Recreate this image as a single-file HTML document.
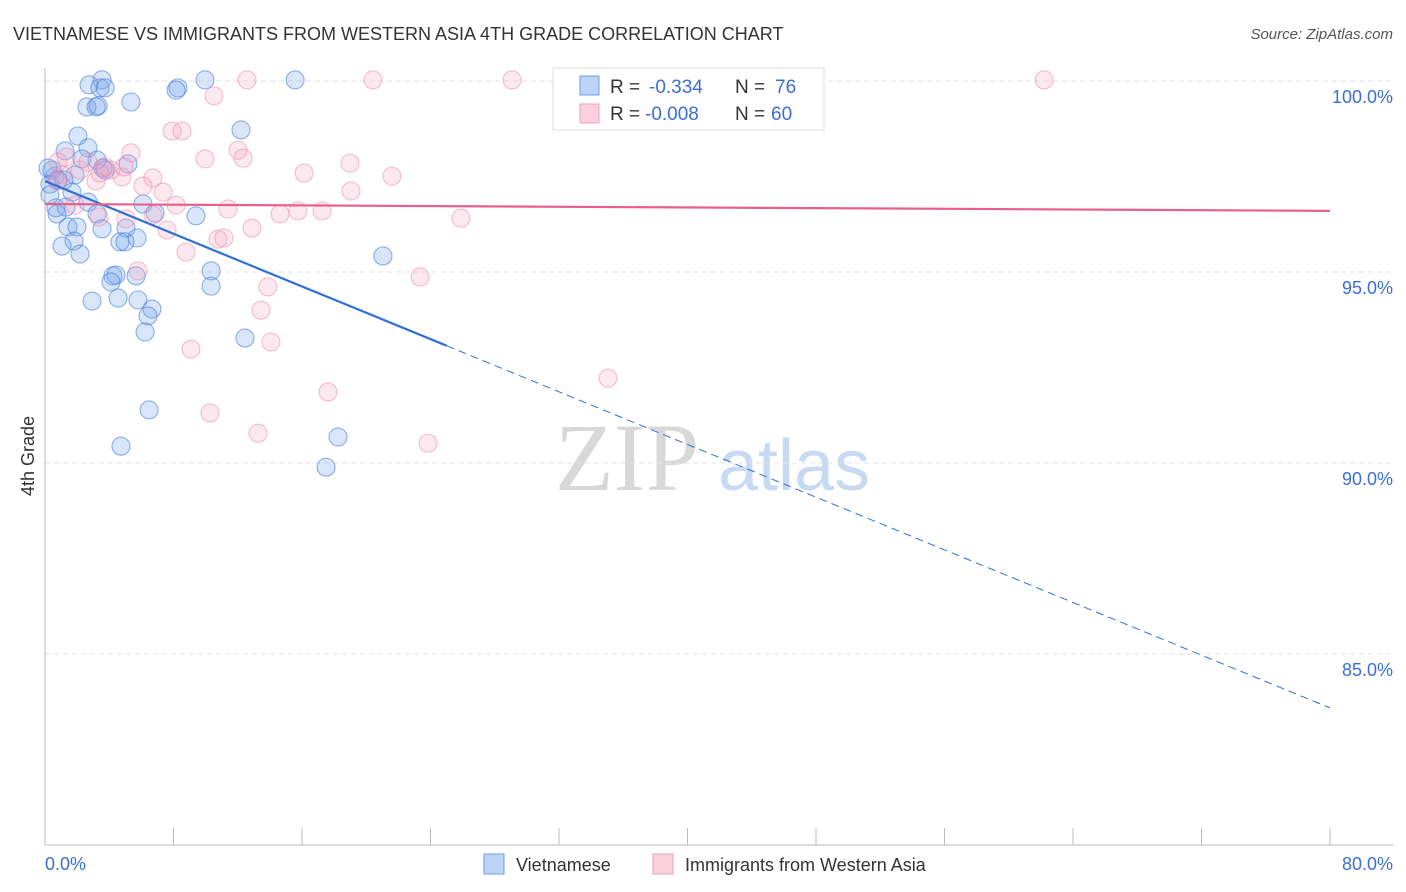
<!DOCTYPE html>
<html><head><meta charset="utf-8"><style>
body{margin:0;background:#fff;font-family:"Liberation Sans",sans-serif;}
#c{position:relative;width:1406px;height:892px;overflow:hidden}
</style></head><body><div id="c">
<svg id="s" width="1406" height="892" xmlns="http://www.w3.org/2000/svg">
<text x="13" y="40" font-size="18" fill="#333">VIETNAMESE VS IMMIGRANTS FROM WESTERN ASIA 4TH GRADE CORRELATION CHART</text>
<text x="1393" y="39" font-size="15" fill="#555" font-style="italic" text-anchor="end">Source: ZipAtlas.com</text>
<text x="555" y="490" font-size="96" fill="#d8d8d8" font-family="Liberation Serif,serif">ZIP</text>
<text x="718" y="490" font-size="72" fill="#c8daf2">atlas</text>
<text transform="translate(34,456) rotate(-90)" font-size="18" fill="#333" text-anchor="middle">4th Grade</text>
<g id="grid"></g><g id="marks"></g>
<g>
<rect x="553" y="68" width="271" height="62" fill="#fff" stroke="#ddd"/>
<rect x="580" y="76" width="19" height="19" fill="#bcd4f6" stroke="#6d9de6"/>
<rect x="580" y="104" width="19" height="19" fill="#fbcfdc" stroke="#ef9fb8"/>
<text x="610" y="93" font-size="19" fill="#333">R =</text>
<text x="649" y="93" font-size="19" fill="#3b6fd4">-0.334</text>
<text x="735" y="93" font-size="19" fill="#333">N =</text>
<text x="775" y="93" font-size="19" fill="#3b6fd4">76</text>
<text x="610" y="120" font-size="19" fill="#333">R =</text>
<text x="645" y="120" font-size="19" fill="#3b6fd4">-0.008</text>
<text x="735" y="120" font-size="19" fill="#333">N =</text>
<text x="771" y="120" font-size="19" fill="#3b6fd4">60</text>
</g>
<g>
<rect x="484" y="854" width="20" height="20" fill="#bcd4f6" stroke="#6d9de6"/>
<text x="516" y="871" font-size="18" fill="#333">Vietnamese</text>
<rect x="653" y="854" width="20" height="20" fill="#fbcfdc" stroke="#ef9fb8"/>
<text x="685" y="871" font-size="18" fill="#333">Immigrants from Western Asia</text>
</g>
</svg></div>
<script>
const yTicks=[100,95,90,85];
const yTickLabels=["100.0%","95.0%","90.0%","85.0%"];
const xTickLabels=["0.0%","80.0%"];
const blueX=[3.55,2.74,3.42,3.74,8.28,8.16,9.96,15.57,2.61,3.18,3.30,5.35,12.20,2.05,2.68,1.25,2.30,3.24,5.17,3.61,3.74,1.87,0.62,0.44,0.81,0.31,1.68,2.68,0.68,1.31,6.10,3.24,6.85,9.40,1.43,1.99,3.55,5.04,5.73,4.67,4.98,1.81,1.06,2.18,4.23,4.42,10.34,4.11,5.67,10.34,2.93,4.55,5.79,6.66,6.41,6.23,12.45,21.04,6.48,4.73,18.24,17.50,0.19,0.31,1.18,0.75];
const blueY=[100.03,99.90,99.82,99.82,99.82,99.76,100.03,100.03,99.32,99.32,99.35,99.45,98.72,98.56,98.25,98.17,97.96,97.93,97.83,97.72,97.67,97.54,97.51,97.67,97.41,97.30,97.09,96.83,96.68,96.70,96.78,96.52,96.54,96.47,96.18,96.18,96.13,96.15,95.89,95.79,95.79,95.81,95.68,95.47,94.90,94.92,95.03,94.74,94.90,94.63,94.24,94.32,94.27,94.03,93.85,93.43,93.27,95.42,91.39,90.44,90.68,89.89,97.72,97.02,97.41,96.52];
const pinkX=[12.58,20.42,29.08,44.02,62.20,10.52,7.91,8.53,12.02,12.33,5.35,9.96,16.13,18.99,19.05,21.60,0.81,1.31,2.68,3.74,4.11,4.79,6.72,6.10,7.35,1.06,0.75,3.18,4.92,8.16,11.39,15.75,17.25,25.90,6.72,5.04,7.60,12.89,14.63,8.78,10.77,11.14,5.79,13.88,23.35,13.45,9.09,14.07,35.05,17.62,10.27,13.26,23.85,3.36,1.87,3.42,2.18];
const pinkY=[100.03,100.03,100.03,100.03,100.03,99.61,98.69,98.69,98.19,97.98,98.12,97.96,97.59,97.85,97.12,97.51,97.88,98.01,97.88,97.75,97.67,97.49,97.46,97.25,97.09,97.54,97.38,97.38,97.75,96.75,96.65,96.60,96.60,96.41,96.49,96.39,96.10,96.15,96.52,95.52,95.86,95.89,95.03,94.61,94.87,94.00,92.98,93.17,92.22,91.86,91.31,90.78,90.52,96.44,96.75,97.59,97.67];
const blueTrend=[97.38,83.59];
const blueSolidEnd=25;
const pinkTrend=[96.78,96.60];
const NS="http://www.w3.org/2000/svg";
function sx(v){return 45+v/80*1285;}
function sy(v){return 81+(100-v)*38.2;}
function mk(t,a,p){const e=document.createElementNS(NS,t);for(const k in a)e.setAttribute(k,a[k]);p.appendChild(e);return e;}
const grid=document.getElementById('grid'),marks=document.getElementById('marks');
yTicks.forEach((t,i)=>{
 const l=mk('line',{x1:45,x2:1393,y1:sy(t),y2:sy(t),stroke:'#e2e2e2','stroke-dasharray':'5,4'},grid);
 
 
 const tx=mk('text',{x:1393,y:sy(t)+22,'font-size':18,fill:'#3b6fd4','text-anchor':'end'},grid);
 tx.textContent=yTickLabels[i];
 
 
});
const ax=mk('line',{x1:45,x2:45,y1:68,y2:845,stroke:'#bbb'},grid);


const bx=mk('line',{x1:45,x2:1393,y1:845,y2:845,stroke:'#bbb'},grid);


for(let i=0;i<=10;i++){const t=mk('line',{x1:sx(i*8),x2:sx(i*8),y1:828,y2:845,stroke:'#bbb'},grid);
 
 }
[[0,'start'],[80,'end']].forEach((d,i)=>{const t=mk('text',{x:i?1393:45,y:870,'font-size':18,fill:'#3b6fd4','text-anchor':d[1]},grid);t.textContent=xTickLabels[i];
 
 });
function pts(X,Y,f,s,n){X.forEach((x,i)=>{const c=mk('circle',{cx:sx(x),cy:sy(Y[i]),r:9,fill:f,stroke:s,'stroke-width':1.1},marks);
 
 });}
pts(blueX,blueY,'rgba(120,165,235,0.28)','rgba(70,125,220,0.6)','point-vietnamese');
pts(pinkX,pinkY,'rgba(245,165,195,0.26)','rgba(235,130,165,0.5)','point-western-asia');
const by=x=>blueTrend[0]+(blueTrend[1]-blueTrend[0])*x/80;
const l1=mk('line',{x1:sx(0),y1:sy(by(0)),x2:sx(blueSolidEnd),y2:sy(by(blueSolidEnd)),stroke:'#2f6fd6','stroke-width':2.2},marks);


const l2=mk('line',{x1:sx(blueSolidEnd),y1:sy(by(blueSolidEnd)),x2:sx(80),y2:sy(by(80)),stroke:'#2f6fd6','stroke-width':1,'stroke-dasharray':'8,5'},marks);


const l3=mk('line',{x1:sx(0),y1:sy(pinkTrend[0]),x2:sx(80),y2:sy(pinkTrend[1]),stroke:'#e8608a','stroke-width':2.2},marks);


</script></body></html>
